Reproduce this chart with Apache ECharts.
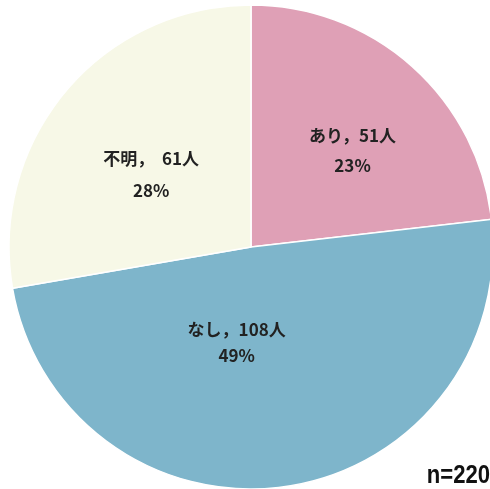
<!DOCTYPE html>
<html><head><meta charset="utf-8">
<script src="https://cdn.jsdelivr.net/npm/echarts@6/dist/echarts.min.js"></script>
<style>html,body{margin:0;padding:0;background:#fff}#c{width:490px;height:489px}</style>
</head><body><div id="c"></div>
<script>
const categories = ["あり", "なし", "不明"];
const counts = [51, 108, 61];
const percents = [23, 49, 28];
const colors = ["#dfa0b6", "#7eb5cb", "#f7f8e7"];
const total = 220;

const chart = echarts.init(document.getElementById('c'));
const labelShift = [[19, -4], [-32, -27], [-5, 7]];
const sep = ["，", "，", "，  "];
const lh = [30, 26, 32];
chart.setOption({
  animation: false,
  series: [{
    type: 'pie',
    center: [251, 247],
    radius: [0, 242],
    startAngle: 90,
    clockwise: true,
    data: categories.map((c, i) => ({ name: c, value: counts[i], itemStyle: { color: colors[i] }, label: { lineHeight: lh[i] } })),
    itemStyle: { borderColor: '#ffffff', borderWidth: 1.5 },
    label: {
      position: 'inside',
      formatter: p => p.name + sep[p.dataIndex] + counts[p.dataIndex] + '人\n' + percents[p.dataIndex] + '%',
      fontFamily: '"Noto Sans CJK JP", sans-serif',
      fontWeight: 'bold',
      fontSize: 17,
      lineHeight: 30,
      color: '#222'
    },
    labelLayout: p => ({ dx: labelShift[p.dataIndex][0], dy: labelShift[p.dataIndex][1] }),
    labelLine: { show: false }
  }],
  graphic: [{
    type: 'text', x: 490, y: 489, scaleX: 0.85,
    style: { text: 'n=' + total, fontSize: 26, fontWeight: 'bold', fontFamily: '"Liberation Sans Narrow", "Liberation Sans", sans-serif', fill: '#111', align: 'right', verticalAlign: 'bottom' }
  }]
});
</script></body></html>
